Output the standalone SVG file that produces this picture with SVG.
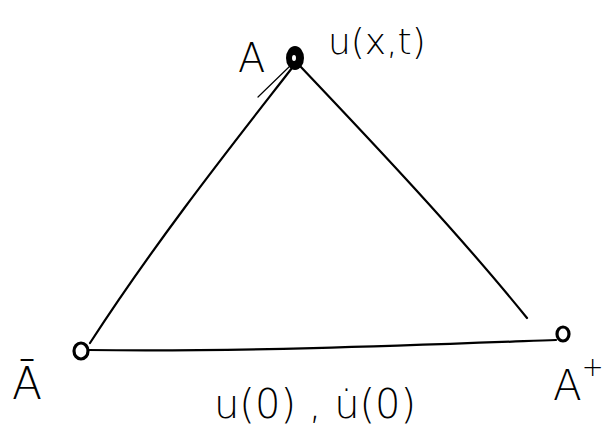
<svg xmlns="http://www.w3.org/2000/svg" width="603" height="430" viewBox="0 0 603 430">
<style>
.edge{fill:none;stroke:#000;stroke-width:2.2;stroke-linecap:round}
.thin{fill:none;stroke:#000;stroke-width:1.2;stroke-linecap:round}
.lbl{font-family:"DejaVu Sans",sans-serif;font-weight:300;fill:#000}
.dot{fill:#000;stroke:#000;stroke-width:2}
.ring{fill:none;stroke:#000;stroke-width:3.2}
</style>
<rect width="603" height="430" fill="#fff"/>
<g id="connectors">
<path class="edge" d="M292 68 C240 135 160 235 90 343"/>
<path class="thin" d="M258 97 L290 66"/>
<path class="edge" d="M300 66 C375 145 460 235 527 318"/>
<path class="edge" d="M88 350 C250 352 420 345 556 340"/>
</g>
<g id="node-A">
<ellipse class="dot" cx="295" cy="58" rx="8" ry="11"/>
<ellipse cx="294" cy="58" rx="2" ry="3" fill="#fff"/>
<text class="lbl" x="238" y="72" font-size="40">A</text>
<text class="lbl" x="328" y="54" font-size="36">u(x,t)</text>
</g>
<g id="node-Aminus">
<ellipse class="ring" cx="81" cy="351" rx="7" ry="8"/>
<text class="lbl" x="12" y="399" font-size="44">Ā</text>
</g>
<g id="node-Aplus">
<ellipse class="ring" cx="563" cy="334" rx="6" ry="7"/>
<text class="lbl" x="553" y="400" font-size="42">A<tspan font-size="26" dy="-24">+</tspan></text>
</g>
<g id="edge-label">
<text class="lbl" x="214" y="418" font-size="40">u(0) , u̇(0)</text>
</g>
</svg>
